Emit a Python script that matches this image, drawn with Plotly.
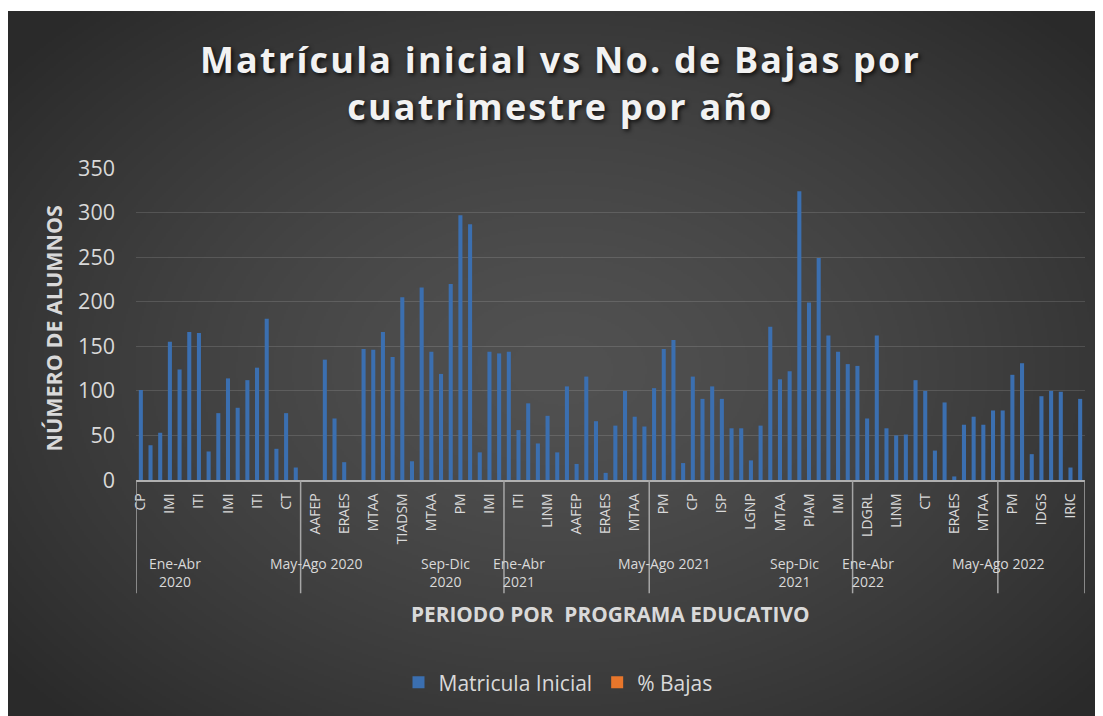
import base64
import struct
import zlib

import numpy as np
import plotly.graph_objects as go

# ---------------- data ----------------
matricula_inicial = [
    101, 39, 53, 155, 124, 166, 165, 32, 75, 114, 81, 112, 126, 181, 35, 75, 14,
    0, 0, 135, 69, 20, 0, 147, 146, 166, 138, 205, 21, 216, 144, 119, 220, 297, 287, 31, 144, 142,
    144, 56, 86, 41, 72, 31, 105, 18, 116, 66, 8, 61, 100, 71, 60,
    103, 147, 157, 19, 116, 91, 105, 91, 58, 58, 22, 61, 172, 113, 122, 324, 199, 249, 162, 144, 130,
    128, 69, 162, 58, 50, 51, 112, 100, 33, 87, 4, 62, 71, 62, 78,
    78, 118, 131, 29, 94, 100, 99, 14, 91,
]
# "% Bajas" values are not readable in the picture (they render invisibly small)
bajas_pct = [None] * len(matricula_inicial)
programas_mostrados = [
    "CP", "IMI", "ITI", "IMI", "ITI", "CT", "AAFEP", "ERAES", "MTAA", "TIADSM", "MTAA",
    "PM", "IMI", "ITI", "LINM", "AAFEP", "ERAES", "MTAA", "PM", "CP", "ISP", "LGNP",
    "MTAA", "PIAM", "IMI", "LDGRL", "LINM", "CT", "ERAES", "MTAA", "PM", "IDGS", "IRIC",
]
periodos = [
    "Ene-Abr 2020", "May-Ago 2020", "Sep-Dic 2020", "Ene-Abr 2021",
    "May-Ago 2021", "Sep-Dic 2021", "Ene-Abr 2022", "May-Ago 2022",
]
serie_1 = "Matricula Inicial"
serie_2 = "% Bajas"

# ---------------- layout constants ----------------
OFF = 8                      # page body margin
W, H = 1095, 708
ML, MR, MT, MB = 128, 18, 160, 234
PW, PH = W - ML - MR, H - MT - MB

def px_x(p):  # reference pixel -> paper x
    return (p - OFF - ML) / PW

def px_y(p):  # reference pixel -> paper y
    return (H - MB - (p - OFF)) / PH

n = len(matricula_inicial)
x_idx = list(range(1, n + 1))
tick_step = 3
tickvals = x_idx[::tick_step][: len(programas_mostrados)]

periodo_x = [4.53, 19.06, 32.5, 40.0, 55.0, 68.55, 76.1, 89.5]
periodo_salto = [True, False, True, True, False, True, True, False]
divisores = [0.5, 17.5, 38.5, 53.5, 74.5, 89.5, 98.5]

# ---------------- background gradient image ----------------
def png_uri(arr):
    h, w, _ = arr.shape
    raw = b"".join(b"\x00" + arr[r].tobytes() for r in range(h))

    def chunk(t, d):
        c = struct.pack(">I", len(d)) + t + d
        return c + struct.pack(">I", zlib.crc32(t + d) & 0xFFFFFFFF)

    png = (b"\x89PNG\r\n\x1a\n"
           + chunk(b"IHDR", struct.pack(">IIBBBBB", w, h, 8, 2, 0, 0, 0))
           + chunk(b"IDAT", zlib.compress(raw, 9))
           + chunk(b"IEND", b""))
    return "data:image/png;base64," + base64.b64encode(png).decode()

bx0, by0 = 7, 10
bw, bh = 1112 - bx0, 724 - by0
gw, gh = bw // 2, bh // 2
yy, xx = np.mgrid[0:gh, 0:gw]
px_ = bx0 + xx * 2.0
py_ = by0 + yy * 2.0
t = np.sqrt(((px_ - 560) / 620.0) ** 2 + ((py_ - 370) / 430.0) ** 2)
v = 81 - 39 * np.clip(t / 1.15, 0, 1) ** 1.4
img = np.repeat(v[:, :, None], 3, axis=2).clip(0, 255).astype(np.uint8)
bg_uri = png_uri(img)

# ---------------- figure ----------------
fig = go.Figure()
fig.add_trace(go.Bar(
    x=x_idx, y=matricula_inicial, name=serie_1, width=0.42,
    marker=dict(color="#3b6fb0", line=dict(width=0)),
))
fig.add_trace(go.Bar(
    x=x_idx, y=bajas_pct, name=serie_2, width=0.42,
    marker=dict(color="#e8762b", line=dict(width=0)),
))

grey = "#d9d9d9"
font_family = "Open Sans"

annotations = []
for name, xp, wrap in zip(periodos, periodo_x, periodo_salto):
    txt = name.replace(" ", "<br>", 1) if wrap else name
    annotations.append(dict(
        x=xp, y=px_y(575.5) if wrap else px_y(566), xref="x", yref="paper",
        text=txt, showarrow=False, xanchor="center", yanchor="middle",
        font=dict(family=font_family, size=14, color=grey),
    ))
annotations.append(dict(
    x=px_x(610), y=px_y(617), xref="paper", yref="paper",
    text="<b>PERIODO POR  PROGRAMA EDUCATIVO</b>", showarrow=False,
    xanchor="center", yanchor="middle",
    font=dict(family=font_family, size=20.8, color=grey),
))
annotations.append(dict(
    x=px_x(53), y=px_y(329.5), xref="paper", yref="paper",
    text="<b>NÚMERO DE ALUMNOS</b>", showarrow=False, textangle=-90,
    xanchor="center", yanchor="middle",
    font=dict(family=font_family, size=21.5, color=grey),
))

shapes = [
    dict(type="line", xref="x", yref="paper", x0=d, x1=d, y0=0, y1=px_y(596),
         line=dict(color="#a6a6a6", width=1.5))
    for d in divisores
]

fig.update_layout(
    width=W, height=H,
    margin=dict(l=ML, r=MR, t=MT, b=MB, pad=0),
    paper_bgcolor="#ffffff",
    plot_bgcolor="rgba(0,0,0,0)",
    font=dict(family=font_family, color=grey),
    title=dict(
        text='<span style="letter-spacing:2.2px"><b>Matrícula inicial vs No. de Bajas por<br>cuatrimestre por año</b></span>',
        x=(560.5 - OFF) / W, xref="container", xanchor="center",
        y=1 - 65 / H, yref="container", yanchor="top",
        font=dict(family=font_family, size=36, color="#f2f2f2",
                  shadow="2px 2px 4px rgba(0,0,0,0.75)"),
    ),
    images=[dict(
        source=bg_uri, xref="paper", yref="paper",
        x=px_x(bx0), y=px_y(by0), sizex=bw / PW, sizey=bh / PH,
        xanchor="left", yanchor="top", sizing="stretch", layer="below",
    )],
    bargap=0.5,
    barmode="overlay",
    showlegend=True,
    legend=dict(
        orientation="h", x=px_x(558), y=px_y(686), xanchor="center", yanchor="middle",
        font=dict(family=font_family, size=21, color=grey),
        bgcolor="rgba(0,0,0,0)", itemclick=False, traceorder="normal",
    ),
    annotations=annotations,
    shapes=shapes,
)
fig.update_xaxes(
    range=[0.5, n + 0.5], tickmode="array", tickvals=tickvals, ticktext=programas_mostrados,
    tickangle=-90, tickfont=dict(family=font_family, size=14, color=grey),
    showgrid=False, zeroline=False, showline=True, linecolor="#b0b0b0", linewidth=1.5,
    ticks="", ticklabelstandoff=6,
)
fig.update_yaxes(
    range=[0, 350], dtick=50, tick0=0,
    tickfont=dict(family=font_family, size=21.5, color=grey),
    showgrid=True, gridcolor="rgba(255,255,255,0.13)", gridwidth=1.2,
    zeroline=False, showline=False, ticks="", ticklabelstandoff=20,
)

fig.write_html("out.html")
